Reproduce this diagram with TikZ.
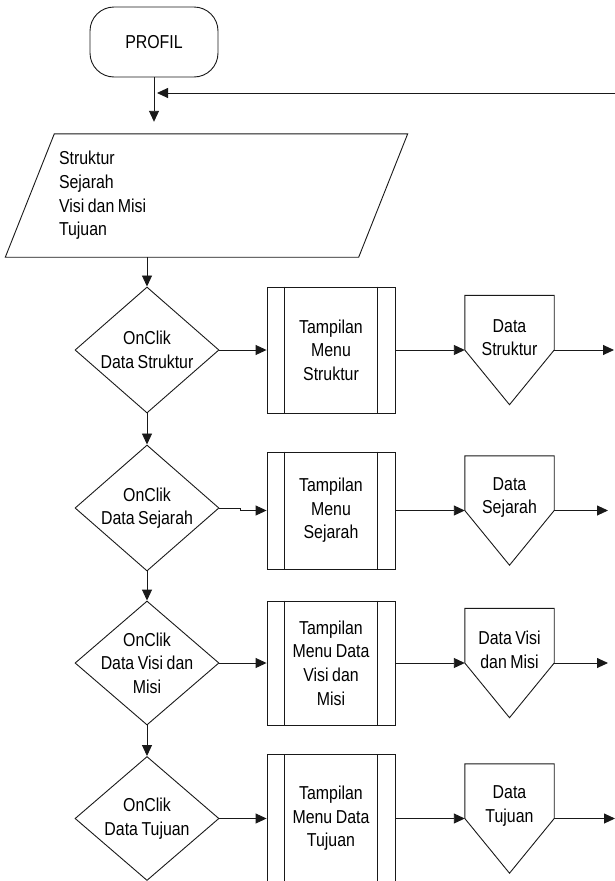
\documentclass[tikz,border=0pt]{standalone}
\usepackage{fontspec}
\setmainfont[FakeStretch=0.85, WordSpace=0.8]{Liberation Sans}
\usetikzlibrary{shapes.geometric,arrows.meta}

\tikzset{
  flowline/.style={line width=0.9pt, draw=black!90},
  arr/.style={flowline, -{Triangle[length=11pt,width=10pt]}},
  terminal/.style={flowline, rectangle, rounded corners=24pt, minimum width=128pt, minimum height=70pt},
  decision/.style={flowline, diamond, minimum width=144pt, minimum height=126pt, inner sep=0pt},
  process/.style={flowline, rectangle, minimum width=128pt, minimum height=126pt, align=center, inner sep=0pt},
  offpage/.style={minimum width=89pt, minimum height=109pt, inner sep=0pt},
  every label/.style={align=center}
}

\begin{document}
\begin{tikzpicture}[x=1pt, y=-1pt, font=\fontsize{18.7}{23.6}\selectfont]
\useasboundingbox (0,0) rectangle (615,881);

\node[terminal] (profil) at (154,42) {PROFIL};
\node[minimum width=353pt, minimum height=123pt, text width=295pt, align=flush left, inner sep=0pt] (input) at (206.5,195.5) {Struktur\\Sejarah\\Visi dan Misi\\Tujuan};
\draw[flowline] ([xshift=24.5pt]input.north west) -- ([xshift=24.5pt]input.north east) -- ([xshift=-24.5pt]input.south east) -- ([xshift=-24.5pt]input.south west) -- cycle;

\node[decision, label=center:{OnClik\\Data Struktur}] (d1) at (147,350) {};
\node[decision, label=center:{OnClik\\Data Sejarah}] (d2) at (147,508) {};
\node[decision, minimum height=124pt, label=center:{OnClik\\Data Visi dan\\Misi}] (d3) at (147,663) {};
\node[decision, minimum height=124pt, label=center:{OnClik\\Data Tujuan}] (d4) at (147,818.5) {};

\node[process] (m1) at (331,350) {Tampilan\\Menu\\Struktur};
\node[process, minimum height=117pt] (m2) at (331,510.5) {Tampilan\\Menu\\Sejarah};
\node[process, minimum height=124pt] (m3) at (331,663) {Tampilan\\Menu Data\\Visi dan\\Misi};
\node[process, minimum height=128pt] (m4) at (331,818.5) {Tampilan\\Menu Data\\Tujuan};
\foreach \m in {m1,m2,m3,m4} {
  \draw[flowline] ([xshift=18pt]\m.north west) -- ([xshift=18pt]\m.south west);
  \draw[flowline] ([xshift=-18pt]\m.north east) -- ([xshift=-18pt]\m.south east);
}

\node[offpage, label={[yshift=12.5pt]center:Data\\Struktur}] (o1) at (509.5,350) {};
\node[offpage, label={[yshift=13pt]center:Data\\Sejarah}] (o2) at (509.5,510.5) {};
\node[offpage, label={[yshift=13pt]center:Data Visi\\dan Misi}] (o3) at (509.5,663) {};
\node[offpage, label={[yshift=12.5pt]center:Data\\Tujuan}] (o4) at (509.5,818.5) {};
\foreach \o in {o1,o2,o3,o4}
  \draw[flowline] (\o.north west) -- (\o.north east) -- (\o.east) -- (\o.south) -- (\o.west) -- cycle;

\coordinate (back) at (615,93);
\coordinate (e1) at (614,350);
\coordinate (e2) at (608,510.5);
\coordinate (e3) at (608,663);
\coordinate (e4) at (615,818.5);

\draw[arr, shorten >=12pt] (profil) -- (profil |- input.north);
\draw[arr, shorten >=3pt] (back) -- (back -| profil);
\draw[arr] (d1 |- input.south) -- (d1);
\draw[arr] (d1) -- (d2);
\draw[arr] (d2) -- (d3);
\draw[arr] (d3) -- (d4);

\draw[arr] (d1) -- (m1);
\draw[arr] (d2.east) -- ++(21,0) |- (m2.west);
\draw[arr] (d3) -- (m3);
\draw[arr] (d4) -- (m4);

\draw[arr] (m1) -- (o1);
\draw[arr] (m2) -- (o2);
\draw[arr] (m3) -- (o3);
\draw[arr] (m4) -- (o4);

\draw[arr] (o1) -- (e1);
\draw[arr] (o2) -- (e2);
\draw[arr] (o3) -- (e3);
\draw[arr] (o4) -- (e4);
\end{tikzpicture}
\end{document}
